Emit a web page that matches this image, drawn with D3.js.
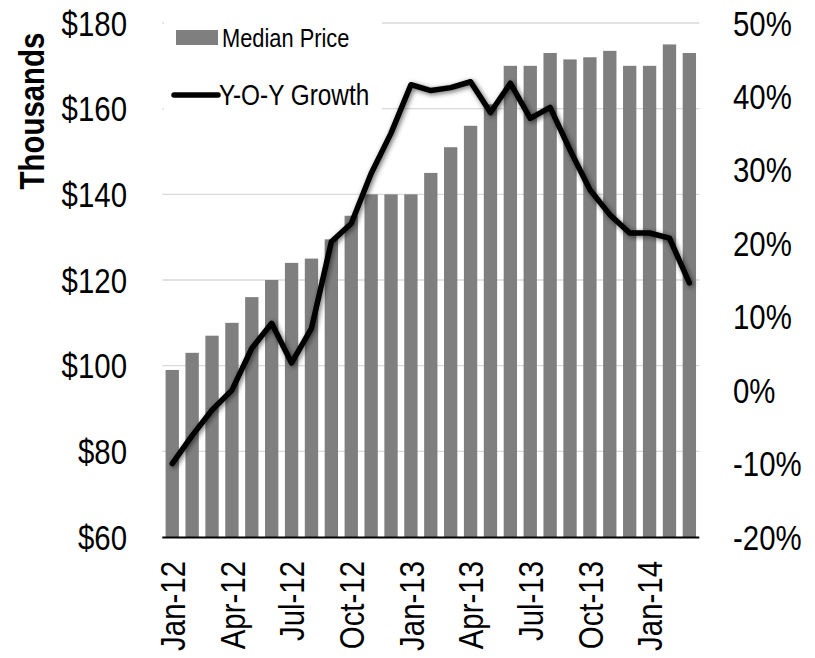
<!DOCTYPE html>
<html>
<head>
<meta charset="utf-8">
<script src="https://cdn.jsdelivr.net/npm/d3@7"></script>
<style>
  body { margin: 0; background: #fff; }
  text { font-family: "Liberation Sans", Arial, sans-serif; fill: #000; }
</style>
</head>
<body>
<div id="chart-area"></div>
<script>

// data
var months = ["Jan-12","Feb-12","Mar-12","Apr-12","May-12","Jun-12","Jul-12","Aug-12","Sep-12",
              "Oct-12","Nov-12","Dec-12","Jan-13","Feb-13","Mar-13","Apr-13","May-13","Jun-13",
              "Jul-13","Aug-13","Sep-13","Oct-13","Nov-13","Dec-13","Jan-14","Feb-14","Mar-14"];
var medianPrice = [99,103,107,110,116,120,124,125,129.5,135,140,140,140,145,151,156,161,170,
                   170,173,171.5,172,173.5,170,170,175,173];
var yoyGrowth = [-10,-6.2,-2.7,0,5.7,9.1,3.7,8.4,20.2,22.7,29.5,35,41.6,40.8,41.2,42,37.8,41.8,
                 37,38.5,32.7,27.3,23.9,21.4,21.4,20.7,14.6];
var priceTicks = [60,80,100,120,140,160,180];
var growthTicks = [-20,-10,0,10,20,30,40,50];
var xTickLabels = ["Jan-12","Apr-12","Jul-12","Oct-12","Jan-13","Apr-13","Jul-13","Oct-13","Jan-14"];

var width = 815,
    height = 658;

// plot area
var plotLeft = 162.3, plotRight = 699.3, plotTop = 23, plotBottom = 537;
var narrow = 0.84;   // the original font is a narrow sans

var svg = d3.select("#chart-area").append("svg")
    .attr("width", width)
    .attr("height", height);

var x = d3.scaleBand()
    .domain(months)
    .range([plotLeft, plotRight])
    .paddingInner(0.33)
    .paddingOuter(0.165);

var yPrice = d3.scaleLinear().domain([60, 180]).range([plotBottom, plotTop]);
var yGrowth = d3.scaleLinear().domain([-20, 50]).range([plotBottom, plotTop]);

// shadow for the growth line
var filter = svg.append("defs").append("filter")
    .attr("id", "glow")
    .attr("x", "-10%").attr("y", "-10%")
    .attr("width", "120%").attr("height", "120%");
filter.append("feDropShadow")
    .attr("dx", 1.5).attr("dy", 1.5)
    .attr("stdDeviation", 2.8)
    .attr("flood-color", "#000")
    .attr("flood-opacity", 0.6);

// gridlines
svg.append("g")
  .selectAll("line")
  .data(priceTicks.slice(1))
  .enter()
  .append("line")
    .attr("x1", plotLeft).attr("x2", plotRight)
    .attr("y1", d => yPrice(d)).attr("y2", d => yPrice(d))
    .style("stroke", "#d9d9d9")
    .style("stroke-width", 1.3);

// bars
svg.append("g")
  .selectAll("rect")
  .data(medianPrice)
  .enter()
  .append("rect")
    .attr("x", (d, i) => x(months[i]))
    .attr("width", x.bandwidth())
    .attr("y", d => yPrice(d))
    .attr("height", d => yPrice(60) - yPrice(d))
    .style("fill", "#7f7f7f");

// x axis line
svg.append("line")
    .attr("x1", plotLeft).attr("x2", plotRight)
    .attr("y1", plotBottom + 0.5).attr("y2", plotBottom + 0.5)
    .style("stroke", "#000")
    .style("stroke-width", 2);

// growth line
var line = d3.line()
    .x((d, i) => x(months[i]) + x.bandwidth() / 2)
    .y(d => yGrowth(d));

svg.append("path")
    .datum(yoyGrowth)
    .attr("d", line)
    .attr("filter", "url(#glow)")
    .style("fill", "none")
    .style("stroke", "#000")
    .style("stroke-width", 5.5)
    .style("stroke-linejoin", "round")
    .style("stroke-linecap", "round");

// left axis labels
svg.append("g")
  .selectAll("text")
  .data(priceTicks)
  .enter()
  .append("text")
    .attr("transform", d => "translate(127," + yPrice(d) + ") scale(" + narrow + ",1)")
    .attr("dy", "0.36em")
    .attr("text-anchor", "end")
    .style("font-size", "35px")
    .text(d => "$" + d);

// right axis labels
svg.append("g")
  .selectAll("text")
  .data(growthTicks)
  .enter()
  .append("text")
    .attr("transform", d => "translate(733," + yGrowth(d) + ") scale(" + narrow + ",1)")
    .attr("dy", "0.36em")
    .attr("text-anchor", "start")
    .style("font-size", "35px")
    .text(d => d + "%");

// x labels, rotated
svg.append("g")
  .selectAll("text")
  .data(xTickLabels)
  .enter()
  .append("text")
    .attr("transform", d => "translate(" + (x(d) + x.bandwidth() / 2) + ",561) rotate(-90) scale(" + narrow + ",1)")
    .attr("dy", "0.36em")
    .attr("text-anchor", "end")
    .style("font-size", "35px")
    .text(d => d);

// axis title
svg.append("text")
    .attr("transform", "translate(31,111) rotate(-90) scale(" + narrow + ",1)")
    .attr("dy", "0.36em")
    .attr("text-anchor", "middle")
    .style("font-size", "35px")
    .style("font-weight", "bold")
    .text("Thousands");

// legend
var legend = svg.append("g");

legend.append("rect")
    .attr("x", 164).attr("y", 12)
    .attr("width", 218).attr("height", 103)
    .style("fill", "#fff");

legend.append("rect")
    .attr("x", 176).attr("y", 30)
    .attr("width", 42).attr("height", 15)
    .style("fill", "#7f7f7f");

legend.append("text")
    .attr("transform", "translate(222,38) scale(" + narrow + ",1)")
    .attr("dy", "0.36em")
    .style("font-size", "26px")
    .text("Median Price");

legend.append("line")
    .attr("x1", 174).attr("x2", 218)
    .attr("y1", 95).attr("y2", 95)
    .style("stroke", "#000")
    .style("stroke-width", 5.5)
    .style("stroke-linecap", "round");

legend.append("text")
    .attr("transform", "translate(219,95) scale(" + narrow + ",1)")
    .attr("dy", "0.36em")
    .style("font-size", "29px")
    .text("Y-O-Y Growth");

</script>
</body>
</html>
